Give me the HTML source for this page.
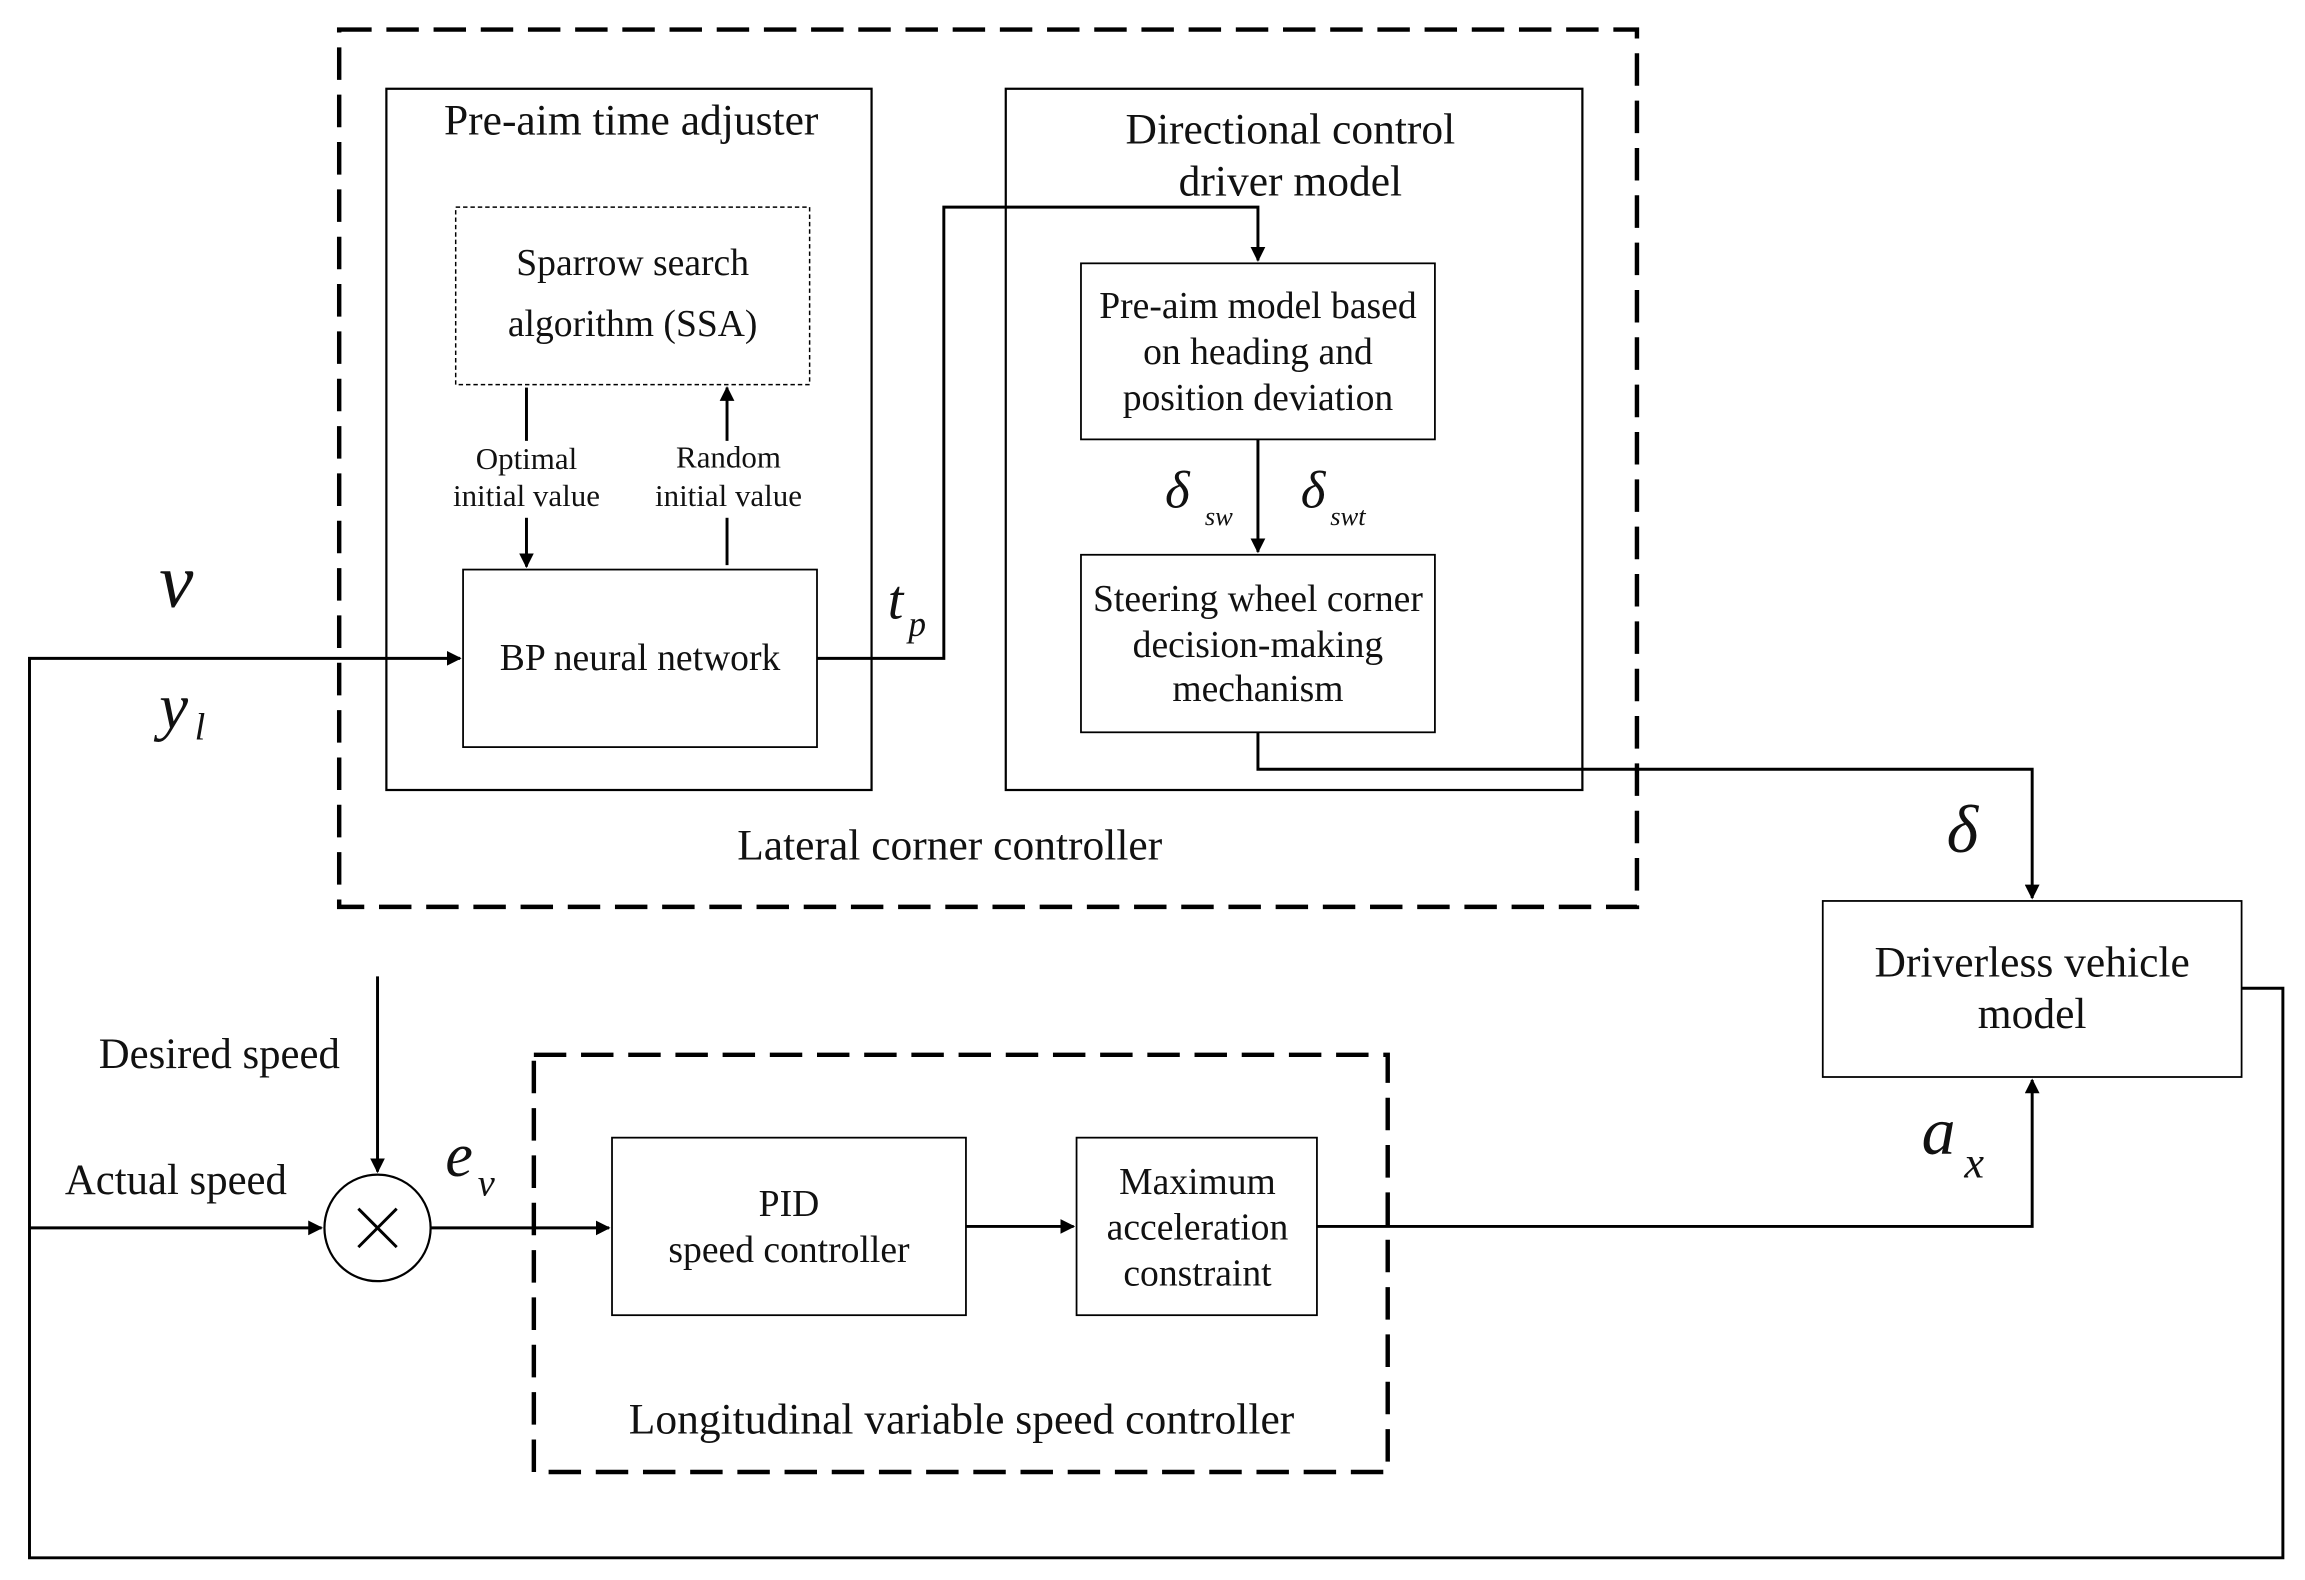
<!DOCTYPE html>
<html><head><meta charset="utf-8">
<style>
html,body{margin:0;padding:0;background:#fff;}
svg{display:block;}
text{font-family:"Liberation Serif",serif;fill:#111;}
</style></head>
<body>
<svg width="2305" height="1580" viewBox="0 0 1563 1068" preserveAspectRatio="none" xmlns="http://www.w3.org/2000/svg">
<defs>
<marker id="a" markerWidth="10" markerHeight="10" refX="9" refY="5" orient="auto" markerUnits="userSpaceOnUse">
<path d="M0,0 L10,5 L0,10 z" fill="#000"/></marker>
</defs>
<g fill="none" stroke="#000">
<rect x="230" y="20" width="880" height="593" stroke-width="3" stroke-dasharray="22,10"/>
<rect x="362" y="713" width="579" height="282" stroke-width="3" stroke-dasharray="22,10"/>
<rect x="262" y="60" width="329" height="474" stroke-width="1.5"/>
<rect x="682" y="60" width="391" height="474" stroke-width="1.5"/>
<rect x="309" y="140" width="240" height="120" stroke-width="1" stroke-dasharray="3,2"/>
<rect x="314" y="385" width="240" height="120" stroke-width="1.2"/>
<rect x="733" y="178" width="240" height="119" stroke-width="1.2"/>
<rect x="733" y="375" width="240" height="120" stroke-width="1.2"/>
<rect x="1236" y="609" width="284" height="119" stroke-width="1.2"/>
<rect x="415" y="769" width="240" height="120" stroke-width="1.2"/>
<rect x="730" y="769" width="163" height="120" stroke-width="1.2"/>
<circle cx="256" cy="830" r="36" stroke-width="1.5"/>
<path d="M243,817 L269,843 M269,817 L243,843" stroke-width="2"/>
<g stroke-width="2">
<path d="M357,262 V298"/>
<path d="M357,350 V383" marker-end="url(#a)"/>
<path d="M493,382 V350"/>
<path d="M493,298 V262" marker-end="url(#a)"/>
<path d="M554,445 H640 V140 H853 V176" marker-end="url(#a)"/>
<path d="M853,297 V373" marker-end="url(#a)"/>
<path d="M853,495 V520 H1378 V607" marker-end="url(#a)"/>
<path d="M1520,668 H1548 V1053 H20 V445 H312" marker-end="url(#a)"/>
<path d="M20,830 H218" marker-end="url(#a)"/>
<path d="M256,660 V792" marker-end="url(#a)"/>
<path d="M292,830 H413" marker-end="url(#a)"/>
<path d="M655,829 H728" marker-end="url(#a)"/>
<path d="M893,829 H1378 V730" marker-end="url(#a)"/>
</g>
</g>
<g font-size="29.5" text-anchor="middle">
<text x="428" y="91">Pre-aim time adjuster</text>
<text x="875" y="97">Directional control</text>
<text x="875" y="132">driver model</text>
<text x="429" y="186" font-size="25.5">Sparrow search</text>
<text x="429" y="227" font-size="25.5">algorithm (SSA)</text>
<text x="357" y="317" font-size="21">Optimal</text>
<text x="357" y="342" font-size="21">initial value</text>
<text x="494" y="316" font-size="21">Random</text>
<text x="494" y="342" font-size="21">initial value</text>
<text x="434" y="453" font-size="25.5">BP neural network</text>
<text x="853" y="215" font-size="25.5">Pre-aim model based</text>
<text x="853" y="246" font-size="25.5">on heading and</text>
<text x="853" y="277" font-size="25.5">position deviation</text>
<text x="853" y="413" font-size="25.5">Steering wheel corner</text>
<text x="853" y="444" font-size="25.5">decision-making</text>
<text x="853" y="474" font-size="25.5">mechanism</text>
<text x="644" y="581">Lateral corner controller</text>
<text x="1378" y="660">Driverless vehicle</text>
<text x="1378" y="695">model</text>
<text x="535" y="822" font-size="25.5">PID</text>
<text x="535" y="853" font-size="25.5">speed controller</text>
<text x="812" y="807" font-size="25.5">Maximum</text>
<text x="812" y="838" font-size="25.5">acceleration</text>
<text x="812" y="869" font-size="25.5">constraint</text>
<text x="652" y="969">Longitudinal variable speed controller</text>
</g>
<g font-size="29">
<text x="67" y="722">Desired speed</text>
<text x="44" y="807">Actual speed</text>
</g>
<g font-style="italic">
<text x="108" y="410" font-size="52">v</text>
<text x="108" y="492" font-size="44">y</text><text x="132" y="500" font-size="26">l</text>
<text x="602" y="418" font-size="38">t</text><text x="616" y="430" font-size="24">p</text>
<text x="790" y="343" font-size="36">δ</text><text x="817" y="355" font-size="18">sw</text>
<text x="882" y="343" font-size="36">δ</text><text x="902" y="355" font-size="18">swt</text>
<text x="1320" y="576" font-size="46">δ</text>
<text x="302" y="795" font-size="42">e</text><text x="324" y="808" font-size="26">v</text>
<text x="1303" y="780" font-size="46">a</text><text x="1332" y="796" font-size="30">x</text>
</g>
</svg>
</body></html>
